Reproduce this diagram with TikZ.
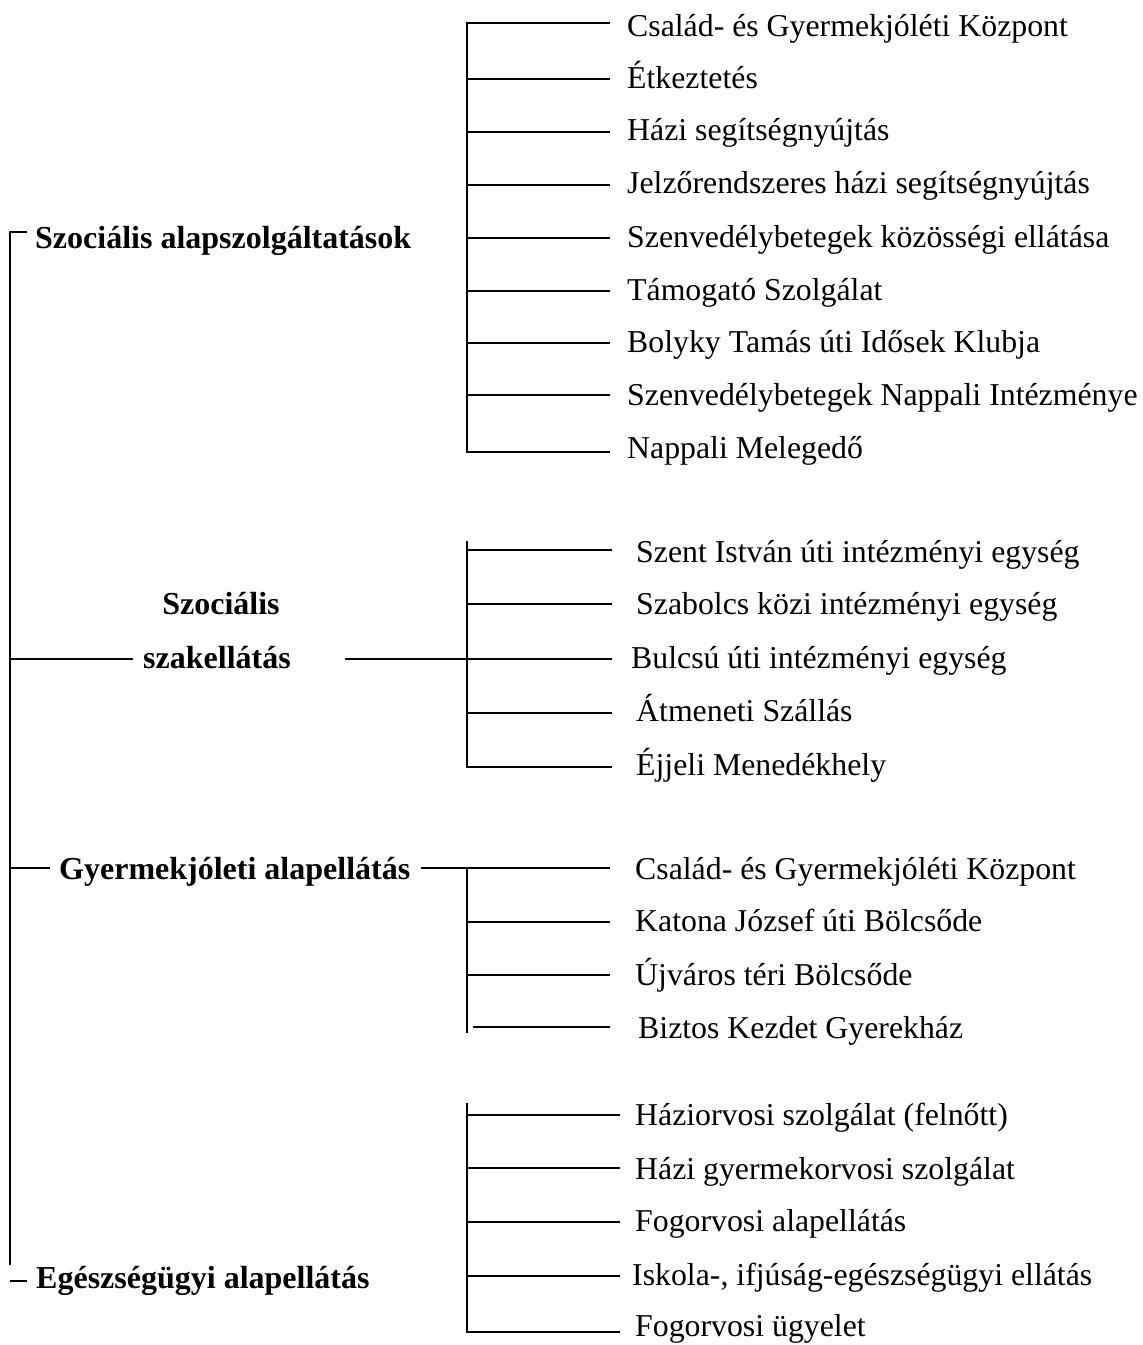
\documentclass[tikz,border=0pt]{standalone}
\usepackage{fontspec}
\setmainfont{Liberation Serif}
\begin{document}
\begin{tikzpicture}[x=1pt,y=-1pt,
  item/.style={anchor=base west, inner sep=0pt, font=\fontsize{31.8}{36}\selectfont},
  head/.style={anchor=base west, inner sep=0pt, font=\fontsize{32}{36}\selectfont\bfseries},
  link/.style={draw, line width=1.8pt, line cap=butt, line join=miter}]
\useasboundingbox (0,0) rectangle (1143,1345);

% ---------- headings ----------
\node[head] (h1) at (35,248) {Szociális alapszolgáltatások};
\node[head,anchor=base] (h2a) at (221,614) {Szociális};
\node[head,anchor=base] (h2b) at (217,668) {szakellátás};
\node[head] (h3) at (59,879) {Gyermekjóleti alapellátás};
\node[head] (h4) at (36,1288) {Egészségügyi alapellátás};

% ---------- main spine ----------
\coordinate (sTick) at (27,232);
\coordinate (sTop) at (10,232);
\coordinate (sBot) at (10,1265);
\draw[link] (sTick) -- (sTop) -- (sBot);
\coordinate (s2) at (10,659);  \coordinate (s2e) at (133,659);
\coordinate (s3) at (10,868);  \coordinate (s3e) at (50,868);
\coordinate (s4) at (10,1281); \coordinate (s4e) at (27,1281);
\draw[link] (s2) -- (s2e);
\draw[link] (s3) -- (s3e);
\draw[link] (s4) -- (s4e);
\coordinate (h2out) at (345,659); \coordinate (h3out) at (421,868);

% ---------- group 1 ----------
\foreach \n/\y/\t in {a/36/{Család- és Gyermekjóléti Központ},
                      b/88/{Étkeztetés},
                      c/140/{Házi segítségnyújtás},
                      d/193/{Jelzőrendszeres házi segítségnyújtás},
                      e/247/{Szenvedélybetegek közösségi ellátása},
                      f/300/{Támogató Szolgálat},
                      g/352/{Bolyky Tamás úti Idősek Klubja},
                      h/405/{Szenvedélybetegek Nappali Intézménye},
                      i/458/{Nappali Melegedő}}
  {\node[item] (g1\n) at (627,\y) {\t};}
\coordinate (g1top) at (467,23); \coordinate (g1bot) at (467,452);
\draw[link] (610,23) -- (g1top) -- (g1bot) -- (610,452);
\foreach \y in {79,132,185,238,291,343,395}
  {\draw[link] (467,\y) -- (610,\y);}

% ---------- group 2 ----------
\foreach \n/\x/\y/\t in {a/636/562/{Szent István úti intézményi egység},
                      b/636/614/{Szabolcs közi intézményi egység},
                      c/631/668/{Bulcsú úti intézményi egység},
                      d/636/721/{Átmeneti Szállás},
                      e/636/775/{Éjjeli Menedékhely}}
  {\node[item] (g2\n) at (\x,\y) {\t};}
\coordinate (g2top) at (467,541); \coordinate (g2bot) at (467,767);
\draw[link] (g2top) -- (g2bot) -- (612,767);
\draw[link] (h2out) -- (612,659);
\foreach \y in {550,604,713}
  {\draw[link] (467,\y) -- (612,\y);}

% ---------- group 3 ----------
\foreach \n/\x/\y/\t in {a/635/879/{Család- és Gyermekjóléti Központ},
                      b/635/931/{Katona József úti Bölcsőde},
                      c/635/985/{Újváros téri Bölcsőde},
                      d/638/1038/{Biztos Kezdet Gyerekház}}
  {\node[item] (g3\n) at (\x,\y) {\t};}
\draw[link] (h3out) -- (610,868);
\coordinate (g3top) at (467,868); \coordinate (g3bot) at (467,1033);
\draw[link] (g3top) -- (g3bot);
\foreach \y in {922,975}
  {\draw[link] (467,\y) -- (610,\y);}
\draw[link] (473,1027) -- (610,1027);

% ---------- group 4 ----------
\foreach \n/\x/\y/\t in {a/635/1125/{Háziorvosi szolgálat (felnőtt)},
                      b/635/1179/{Házi gyermekorvosi szolgálat},
                      c/635/1231/{Fogorvosi alapellátás},
                      d/632/1285/{Iskola-, ifjúság-egészségügyi ellátás},
                      e/635/1336/{Fogorvosi ügyelet}}
  {\node[item] (g4\n) at (\x,\y) {\t};}
\coordinate (g4top) at (467,1103); \coordinate (g4bot) at (467,1332);
\draw[link] (g4top) -- (g4bot) -- (620,1332);
\foreach \y in {1115,1168,1222,1276}
  {\draw[link] (467,\y) -- (620,\y);}
\end{tikzpicture}
\end{document}
